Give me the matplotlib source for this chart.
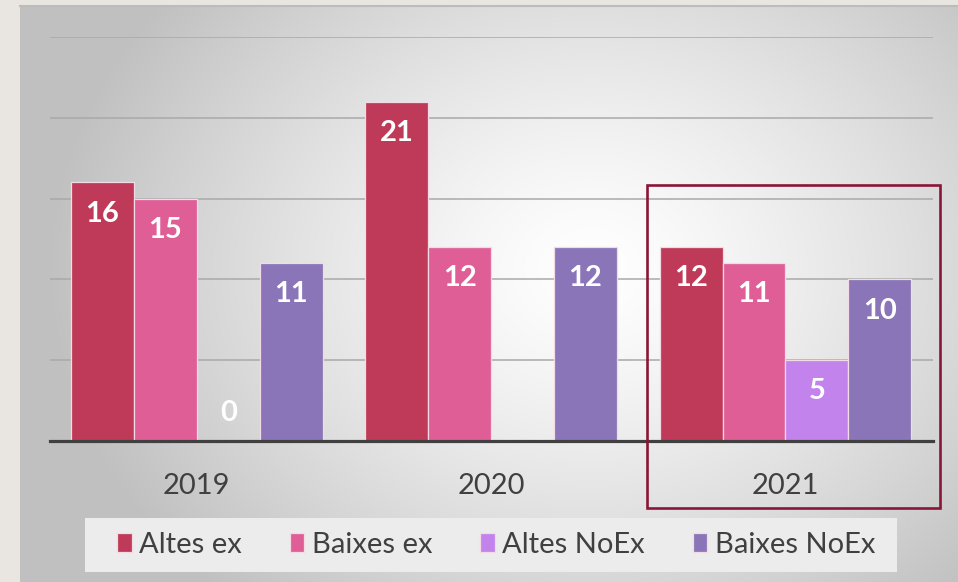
import numpy as np
import matplotlib
matplotlib.use("Agg")
import matplotlib.pyplot as plt
from matplotlib.patches import Rectangle

plt.rcParams['font.family'] = ['Lato', 'DejaVu Sans']

years = ["2019", "2020", "2021"]
series_names = ["Altes ex", "Baixes ex", "Altes NoEx", "Baixes NoEx"]
altes_ex = [16, 21, 12]
baixes_ex = [15, 12, 11]
altes_noex = [0, np.nan, 5]
baixes_noex = [11, 12, 10]
series_values = [altes_ex, baixes_ex, altes_noex, baixes_noex]
colors = ["#bf3a58", "#e05e96", "#c383ec", "#8a75b8"]

W, H = 958, 582
fig = plt.figure(figsize=(W / 100, H / 100), dpi=100)
fig.patch.set_facecolor("#e9e6e2")

# gradient panel
bx0, by0 = 20, 6
bg = fig.add_axes([bx0 / W, 0, (W - bx0) / W, (H - by0) / H])
bg.set_zorder(-5)
xs = np.arange(bx0, W)
ys = np.arange(by0, H)
X, Y = np.meshgrid(xs, ys)
r = np.sqrt(((X - 590) / 470.0) ** 2 + ((Y - 270) / 380.0) ** 2)
val = 255 - 52 * r ** 1.3
val = np.clip(val, 192, 255) / 255.0
img = np.dstack([val, val, val])
bg.imshow(img, aspect="auto", interpolation="bilinear")
bg.axis("off")
fig.add_artist(plt.Line2D([bx0 / W, 1], [1 - by0 / H, 1 - by0 / H], color="#bcbcbc", lw=1.5))

# main axes
left, right, base, top = 49.5, 932.7, 441, 37
ax = fig.add_axes([left / W, 1 - base / H, (right - left) / W, (base - top) / H])
ax.set_facecolor("none")
ax.set_xlim(-0.5, 2.5)
ax.set_ylim(0, 25)

x = np.arange(len(years))
bw = 63 / 294.5
offsets = (np.arange(4) - 1.5) * bw
for i, (vals, c, name) in enumerate(zip(series_values, colors, series_names)):
    v = np.array(vals, dtype=float)
    ax.bar(x + offsets[i], np.nan_to_num(v), width=bw, color=c, edgecolor="#f3dbe6",
           linewidth=0.9, label=name, zorder=3)
    for xi, vi in zip(x + offsets[i], v):
        if np.isnan(vi):
            continue
        dy = -22.5 if vi > 0 else 20
        ax.annotate(f"{int(vi)}", (xi, vi), xytext=(0, dy), textcoords="offset points",
                    ha="center", va="center", color="white", fontsize=21,
                    fontweight="bold", zorder=5)

ax.set_yticks([5, 10, 15, 20, 25])
ax.yaxis.grid(True, color="#a9a9a9", lw=1.1, zorder=1)
ax.tick_params(axis="y", left=False, labelleft=False)
ax.set_xticks(x)
ax.set_xticklabels(years, fontsize=21, color="#404040")
ax.tick_params(axis="x", length=0, pad=23)
for s in ["top", "right", "left"]:
    ax.spines[s].set_visible(False)
ax.spines["bottom"].set_color("#404040")
ax.spines["bottom"].set_linewidth(2.3)
ax.spines["bottom"].set_zorder(6)

# highlight rectangle
fig.add_artist(Rectangle((647 / W, 1 - 508 / H), (940 - 647) / W, (508 - 185) / H,
                         transform=fig.transFigure, fill=False, edgecolor="#8a1538", lw=1.9, zorder=10))

# legend box
fig.add_artist(Rectangle((85 / W, 1 - 572 / H), (897 - 85) / W, (572 - 518) / H,
                         transform=fig.transFigure, facecolor="#ececec", edgecolor="none", zorder=1))
handles, labels = ax.get_legend_handles_labels()
fig.legend(handles, labels, loc="center", bbox_to_anchor=(496 / W, 1 - 545 / H), ncol=4,
           frameon=False, fontsize=21, handlelength=0.5, handleheight=0.65,
           handletextpad=0.25, columnspacing=1.65, labelcolor="#404040")

fig.savefig("out.png", dpi=100, facecolor=fig.get_facecolor())
